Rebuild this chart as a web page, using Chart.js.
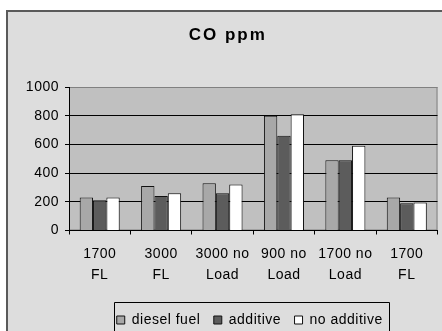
<!DOCTYPE html>
<html>
<head>
<meta charset="utf-8">
<script src="https://cdn.jsdelivr.net/npm/chart.js@4"></script>
<style>
  html, body { margin: 0; padding: 0; background: #fff; }
  canvas { display: block; }
</style>
</head>
<body>
<canvas id="c" width="442" height="331"></canvas>
<script>
// Engine operating points (two-line labels)
const categories = [["1700", "FL"], ["3000", "FL"], ["3000 no", "Load"], ["900 no", "Load"], ["1700 no", "Load"], ["1700", "FL"]];
// CO concentration, ppm
const dieselFuel = [230, 310, 330, 800, 490, 230];
const additive = [210, 240, 260, 660, 490, 190];
const noAdditive = [230, 260, 320, 810, 590, 195];
const yTicks = [0, 200, 400, 600, 800, 1000];

const FONT = '"Liberation Sans", Arial, sans-serif';
const TRACKING = '0.5px';

const framePlugin = {
  id: 'frame',
  afterInit(chart) {
    // wider tracking for the heading
    const tb = chart.titleBlock;
    const orig = tb.draw.bind(tb);
    tb.draw = function () {
      const c = chart.ctx;
      const prev = c.letterSpacing;
      c.letterSpacing = '2px';
      orig();
      c.letterSpacing = prev;
    };
  },
  beforeUpdate(chart) { chart.ctx.letterSpacing = TRACKING; },
  afterLayout(chart) {
    chart.legend.left += 27; chart.legend.right += 27;
    chart.titleBlock.left += 5; chart.titleBlock.right += 5;
  },
  beforeDraw(chart) {
    const ctx = chart.ctx;
    const { width, height } = chart;
    const a = chart.chartArea;
    ctx.save();
    ctx.fillStyle = '#ffffff';
    ctx.fillRect(0, 0, width, height);
    ctx.fillStyle = '#dddddd';
    ctx.fillRect(7, 11, width - 7, height - 11);
    ctx.strokeStyle = '#5a5a5a';
    ctx.lineWidth = 2;
    ctx.beginPath();
    ctx.moveTo(7, height); ctx.lineTo(7, 11); ctx.lineTo(width, 11);
    ctx.stroke();
    ctx.fillStyle = '#c0c0c0';
    ctx.fillRect(a.left, a.top, a.right - a.left, a.bottom - a.top);
    ctx.strokeStyle = '#808080';
    ctx.lineWidth = 1;
    ctx.strokeRect(a.left + 0.5, a.top + 0.5, a.right - a.left - 1, a.bottom - a.top - 1);
    ctx.restore();
    ctx.letterSpacing = TRACKING;
  },
  afterDraw(chart) {
    // framed legend box
    const lg = chart.legend;
    const hb = lg.legendHitBoxes;
    if (!hb || !hb.length) return;
    const first = hb[0], last = hb[hb.length - 1];
    const ctx = chart.ctx;
    const left = Math.round(first.left - 3) + 0.5;
    const right = Math.round(last.left + last.width + 6) + 0.5;
    const top = 302.5;
    ctx.save();
    ctx.strokeStyle = '#000';
    ctx.lineWidth = 1;
    ctx.beginPath();
    ctx.moveTo(left, chart.height + 2);
    ctx.lineTo(left, top);
    ctx.lineTo(right, top);
    ctx.lineTo(right, chart.height + 2);
    ctx.stroke();
    ctx.restore();
  }
};

new Chart(document.getElementById('c'), {
  type: 'bar',
  data: {
    labels: categories,
    datasets: [
      { label: 'diesel fuel', data: dieselFuel, backgroundColor: '#a8a8a8', borderColor: '#111', borderWidth: 1 },
      { label: 'additive', data: additive, backgroundColor: '#5c5c5c', borderColor: '#111', borderWidth: 1 },
      { label: 'no additive', data: noAdditive, backgroundColor: '#ffffff', borderColor: '#111', borderWidth: 1 }
    ]
  },
  options: {
    responsive: false,
    animation: false,
    devicePixelRatio: 1,
    layout: { padding: { left: 8, top: 10, right: 4.5, bottom: -6 } },
    datasets: { bar: { categoryPercentage: 0.652, barPercentage: 1.0, borderSkipped: 'start' } },
    plugins: {
      title: {
        display: true,
        text: 'CO ppm',
        color: '#000',
        font: { family: FONT, size: 17, weight: 'bold' },
        padding: { top: 14.8, bottom: 41.8 }
      },
      legend: {
        position: 'bottom',
        labels: {
          color: '#000',
          font: { family: FONT, size: 14 },
          boxWidth: 8,
          boxHeight: 8,
          padding: 13.5
        }
      },
      tooltip: { enabled: false }
    },
    scales: {
      x: {
        offset: true,
        grid: { offset: true, drawOnChartArea: false, color: '#000', tickLength: 4, lineWidth: 1 },
        border: { display: true, color: '#000', width: 1 },
        ticks: {
          color: '#000',
          font: { family: FONT, size: 14, lineHeight: 1.5 },
          padding: 9,
          maxRotation: 0,
          autoSkip: false
        },
        afterFit(s) { s.height = 69; }
      },
      y: {
        min: 0,
        max: 1000,
        afterBuildTicks(s) { s.ticks = yTicks.map(v => ({ value: v })); },
        grid: {
          color: (c) => (c.tick && c.tick.value === 1000 ? '#808080' : '#000'),
          tickColor: '#000',
          tickLength: 4,
          lineWidth: 1
        },
        border: { display: true, color: '#000', width: 1 },
        ticks: {
          color: '#000',
          font: { family: FONT, size: 14 },
          padding: 6,
          callback: (v) => String(v)
        },
        afterFit(s) { s.width = 61; }
      }
    }
  },
  plugins: [framePlugin]
});
</script>
</body>
</html>
